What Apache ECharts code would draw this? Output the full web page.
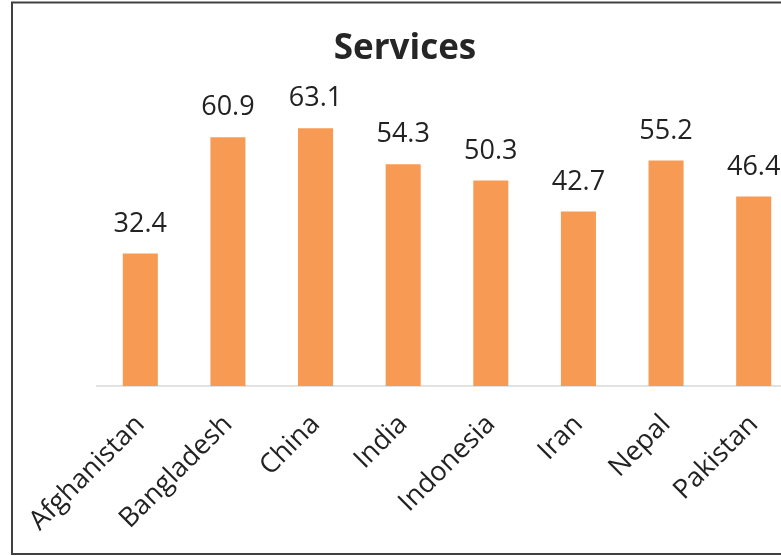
<!DOCTYPE html>
<html>
<head>
<meta charset="utf-8">
<script src="https://cdn.jsdelivr.net/npm/echarts@6/dist/echarts.min.js"></script>
<style>
html,body{margin:0;padding:0;background:#fff;}
#chart{width:781px;height:556px;}
</style>
</head>
<body>
<div id="chart"></div>
<script>
const categories = ['Afghanistan', 'Bangladesh', 'China', 'India', 'Indonesia', 'Iran', 'Nepal', 'Pakistan'];
const services = [32.4, 60.9, 63.1, 54.3, 50.3, 42.7, 55.2, 46.4];
const titleText = 'Services';

const chart = echarts.init(document.getElementById('chart'));
chart.setOption({
  animation: false,
  backgroundColor: '#ffffff',
  title: {
    text: titleText,
    left: 405,
    textAlign: 'center',
    top: 32,
    padding: 0,
    textStyle: { fontFamily: 'Open Sans', fontWeight: 'bold', fontSize: 35, color: '#262626' }
  },
  graphic: [{
    type: 'rect',
    shape: { x: 12, y: 2.5, width: 786, height: 551.5 },
    style: { fill: 'none', stroke: '#404040', lineWidth: 2 },
    silent: true
  }],
  grid: { left: 96.5, width: 701, top: 100, bottom: 170, outerBoundsMode: 'none', containLabel: false },
  xAxis: {
    type: 'category',
    data: categories,
    axisLine: { lineStyle: { color: '#d9d9d9', width: 1.5 } },
    axisTick: { show: false },
    axisLabel: {
      rotate: 45,
      interval: 0,
      margin: 34,
      fontFamily: 'Open Sans',
      fontSize: 27,
      color: '#222222'
    }
  },
  yAxis: {
    type: 'value',
    min: 0,
    max: 70,
    show: false,
    splitLine: { show: false }
  },
  series: [{
    type: 'bar',
    data: services,
    barWidth: '40%',
    itemStyle: { color: '#F79B54' },
    label: {
      show: true,
      position: 'top',
      distance: 16,
      fontFamily: 'Open Sans',
      fontSize: 27,
      color: '#222222'
    }
  }]
});
</script>
</body>
</html>
